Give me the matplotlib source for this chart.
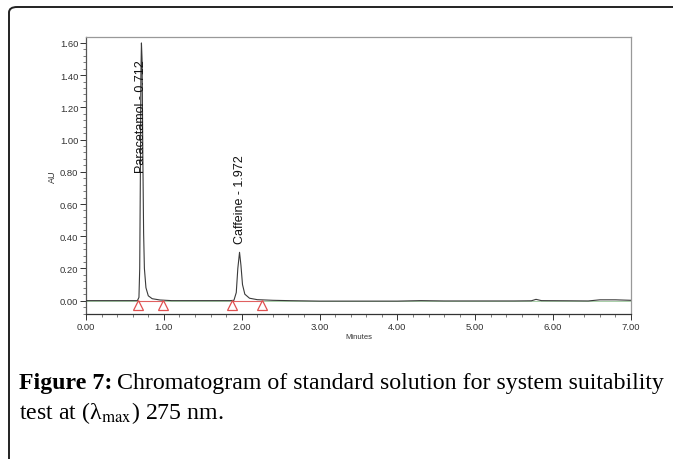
import matplotlib
matplotlib.use("Agg")
import matplotlib.pyplot as plt
from matplotlib.patches import FancyBboxPatch
from matplotlib.ticker import MultipleLocator, FormatStrFormatter

# Chromatogram trace (minutes, AU)
time_min = [0.00, 0.30, 0.55, 0.66, 0.68, 0.69, 0.70, 0.705, 0.712, 0.72, 0.73, 0.74,
            0.75, 0.77, 0.80, 0.85, 0.95, 1.10, 1.50, 1.85, 1.90, 1.93, 1.95, 1.972,
            1.99, 2.01, 2.04, 2.10, 2.20, 2.40, 2.60, 3.00, 3.50, 4.00, 4.30, 4.60,
            5.00, 5.50, 5.72, 5.78, 5.85, 6.20, 6.45, 6.60, 6.80, 7.00]
absorb_au = [0.000, 0.000, 0.000, 0.000, 0.020, 0.200, 0.900, 1.400, 1.600, 1.500, 0.900, 0.420,
             0.200, 0.080, 0.030, 0.012, 0.004, 0.000, 0.000, 0.000, 0.002, 0.050, 0.200, 0.300,
             0.220, 0.100, 0.040, 0.015, 0.006, 0.002, 0.000, -0.003, -0.003, -0.003, 0.000, -0.002,
             -0.002, -0.002, -0.001, 0.008, 0.000, -0.001, -0.002, 0.005, 0.005, 0.002]

peak_names = ["Paracetamol - 0.712", "Caffeine - 1.972"]
peak_rt = [0.712, 1.972]
label_bottom_au = [0.80, 0.355]

baseline_starts = [0.668, 1.875]
baseline_ends = [0.990, 2.260]

fig = plt.figure(figsize=(6.73, 4.60), dpi=100)

# outer rounded frame
frame = FancyBboxPatch((9/673, -0.2), 1.2, (452/460) + 0.2,
                       boxstyle="round,pad=0,rounding_size=0.012",
                       transform=fig.transFigure, fill=False, lw=1.4,
                       edgecolor="#222222", clip_on=False)
fig.patches.append(frame)

ax = fig.add_axes([86/673, 1 - 315/460, (631 - 86)/673, (315 - 38)/460])
ax.set_xlim(0, 7.0)
ax.set_ylim(-0.083, 1.637)

ax.axhline(0, color="#9ac79a", lw=0.6, zorder=1)
ax.plot(time_min, absorb_au, color="#3a3a3a", lw=0.8, zorder=3)

for s, e in zip(baseline_starts, baseline_ends):
    ax.plot([s, e], [0.0, 0.0], color="#e06060", lw=0.8, zorder=2)
    ax.plot([s, e], [-0.026, -0.026], linestyle="none", marker="^", markersize=7,
            markerfacecolor="none", markeredgecolor="#e05050", markeredgewidth=0.9, zorder=4)

for name, rt, yb in zip(peak_names, peak_rt, label_bottom_au):
    ax.text(rt, yb, name, rotation=90, ha="center", va="bottom", fontsize=9,
            family="Liberation Sans", color="#111111", zorder=5)

ax.xaxis.set_major_locator(MultipleLocator(1.0))
ax.xaxis.set_minor_locator(MultipleLocator(0.2))
ax.yaxis.set_minor_locator(MultipleLocator(0.04))
ax.set_yticks([i * 0.2 for i in range(9)])
ax.xaxis.set_major_formatter(FormatStrFormatter("%.2f"))
ax.yaxis.set_major_formatter(FormatStrFormatter("%.2f"))

ax.tick_params(axis="both", which="major", direction="out", length=4, width=0.7,
               labelsize=6.8, colors="#333333", pad=1.5)
ax.tick_params(axis="both", which="minor", direction="out", length=2.5, width=0.6,
               colors="#666666")
for lab in ax.get_xticklabels() + ax.get_yticklabels():
    lab.set_family("Liberation Sans")

ax.spines["left"].set_color("#555555")
ax.spines["bottom"].set_color("#333333")
ax.spines["top"].set_color("#999999")
ax.spines["right"].set_color("#999999")
for sp in ax.spines.values():
    sp.set_linewidth(0.9)

ax.set_xlabel("Minutes", fontsize=5.5, family="Liberation Sans", color="#333333", labelpad=2)
ax.set_ylabel("AU", fontsize=6.5, family="Liberation Sans", color="#333333", labelpad=2)

# caption
plt.rcParams["mathtext.fontset"] = "stix"
cap_size = 17.2
t1 = fig.text(19/673, 1 - 384/460, "Figure 7:", fontsize=cap_size, family="Liberation Serif",
              fontweight="bold", va="center", ha="left")
fig.canvas.draw()
bb = t1.get_window_extent()
x_after = (bb.x1 + 5) / 673
fig.text(x_after, 1 - 384/460, "Chromatogram of standard solution for system suitability",
         fontsize=cap_size, family="Liberation Serif", va="center", ha="left")
fig.text(19/673, 1 - 413/460, r"test at (λ$_{\mathrm{max}}$) 275 nm.", fontsize=cap_size,
         family="Liberation Serif", va="center", ha="left")

fig.savefig("out.png", dpi=100)
